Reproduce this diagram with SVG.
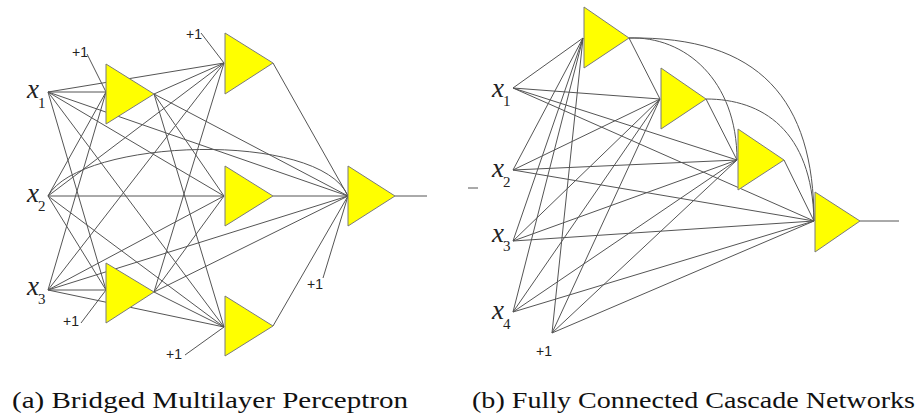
<svg xmlns="http://www.w3.org/2000/svg" width="923" height="417" viewBox="0 0 923 417">
<style>
.n{fill:#FFFF00;stroke:#7a7a7a;stroke-width:1}
.c line,.c path{stroke:#555;stroke-width:1;fill:none}
</style>
<rect width="923" height="417" fill="#fff"/>
<g class="c" id="connectors-a">
<line x1="48" y1="92" x2="106" y2="92"/>
<line x1="48" y1="92" x2="106" y2="290"/>
<line x1="48" y1="92" x2="224" y2="63"/>
<line x1="48" y1="92" x2="224" y2="196"/>
<line x1="48" y1="92" x2="224" y2="327"/>
<line x1="48" y1="92" x2="348" y2="196"/>
<line x1="48" y1="196" x2="106" y2="92"/>
<line x1="48" y1="196" x2="106" y2="290"/>
<line x1="48" y1="196" x2="224" y2="63"/>
<line x1="48" y1="196" x2="224" y2="196"/>
<line x1="48" y1="196" x2="224" y2="327"/>
<path d="M48,196 C80,138 320,130 348,196"/>
<line x1="48" y1="290" x2="106" y2="92"/>
<line x1="48" y1="290" x2="106" y2="290"/>
<line x1="48" y1="290" x2="224" y2="63"/>
<line x1="48" y1="290" x2="224" y2="196"/>
<line x1="48" y1="290" x2="224" y2="327"/>
<line x1="48" y1="290" x2="348" y2="196"/>
<line x1="154" y1="94" x2="224" y2="63"/>
<line x1="154" y1="94" x2="224" y2="196"/>
<line x1="154" y1="94" x2="224" y2="327"/>
<line x1="154" y1="94" x2="348" y2="196"/>
<line x1="154" y1="292" x2="224" y2="63"/>
<line x1="154" y1="292" x2="224" y2="196"/>
<line x1="154" y1="292" x2="224" y2="327"/>
<line x1="154" y1="292" x2="348" y2="196"/>
<line x1="273" y1="63" x2="348" y2="196"/>
<line x1="273" y1="196" x2="348" y2="196"/>
<line x1="273" y1="326" x2="348" y2="196"/>
<line x1="395" y1="196" x2="427" y2="196"/>
<line x1="87" y1="54" x2="106" y2="92"/>
<line x1="201" y1="33" x2="224" y2="63"/>
<line x1="81" y1="323" x2="106" y2="290"/>
<line x1="185" y1="355" x2="224" y2="327"/>
<line x1="323" y1="278" x2="348" y2="196"/>
</g>
<g class="c" id="connectors-b">
<line x1="513" y1="88" x2="583" y2="38"/>
<line x1="513" y1="88" x2="660" y2="99"/>
<line x1="513" y1="88" x2="737" y2="160"/>
<line x1="513" y1="88" x2="814" y2="221"/>
<line x1="513" y1="170" x2="583" y2="38"/>
<line x1="513" y1="170" x2="660" y2="99"/>
<line x1="513" y1="170" x2="737" y2="160"/>
<line x1="513" y1="170" x2="814" y2="221"/>
<line x1="513" y1="241" x2="583" y2="38"/>
<line x1="513" y1="241" x2="660" y2="99"/>
<line x1="513" y1="241" x2="737" y2="160"/>
<line x1="513" y1="241" x2="814" y2="221"/>
<line x1="513" y1="312" x2="583" y2="38"/>
<line x1="513" y1="312" x2="660" y2="99"/>
<line x1="513" y1="312" x2="737" y2="160"/>
<line x1="513" y1="312" x2="814" y2="221"/>
<line x1="552" y1="333" x2="583" y2="38"/>
<line x1="552" y1="333" x2="660" y2="99"/>
<line x1="552" y1="333" x2="737" y2="160"/>
<line x1="552" y1="333" x2="814" y2="221"/>
<line x1="629" y1="38" x2="660" y2="99"/>
<line x1="706" y1="99" x2="737" y2="160"/>
<line x1="784" y1="160" x2="814" y2="221"/>
<path d="M629,38 C685,36 737,80 737,160"/>
<path d="M629,38 C760,36 814,100 814,221"/>
<path d="M706,99 C762,99 812,130 814,221"/>
<line x1="860" y1="221" x2="899" y2="221"/>
<line x1="468" y1="188" x2="478" y2="188"/>
</g>
<g id="a-h1a"><polygon class="n" points="106,64 106,124 154,94"/></g>
<g id="a-h1b"><polygon class="n" points="106,263 106,323 154,292"/></g>
<g id="a-h2a"><polygon class="n" points="225,33 225,94 273,63"/></g>
<g id="a-h2b"><polygon class="n" points="225,166 225,226 273,196"/></g>
<g id="a-h2c"><polygon class="n" points="225,296 225,356 273,326"/></g>
<g id="a-out"><polygon class="n" points="348,166 348,226 395,196"/></g>
<g id="b-n1"><polygon class="n" points="584,7 584,68 629,38"/></g>
<g id="b-n2"><polygon class="n" points="661,68 661,129 706,99"/></g>
<g id="b-n3"><polygon class="n" points="738,129 738,190 784,160"/></g>
<g id="b-n4"><polygon class="n" points="815,192 815,252 860,221"/></g>
<g id="var-labels" font-family="Liberation Serif, Times New Roman, serif" fill="#222">
<g id="a-x1"><text font-style="italic" font-size="27" x="27" y="98">x</text><text font-size="15" x="38" y="108">1</text></g>
<g id="a-x2"><text font-style="italic" font-size="27" x="27" y="202">x</text><text font-size="15" x="38" y="211">2</text></g>
<g id="a-x3"><text font-style="italic" font-size="27" x="27" y="295">x</text><text font-size="15" x="38" y="304">3</text></g>
<g id="b-x1"><text font-style="italic" font-size="27" x="492" y="97">x</text><text font-size="15" x="503" y="106">1</text></g>
<g id="b-x2"><text font-style="italic" font-size="27" x="492" y="177">x</text><text font-size="15" x="503" y="187">2</text></g>
<g id="b-x3"><text font-style="italic" font-size="27" x="492" y="242">x</text><text font-size="15" x="503" y="251">3</text></g>
<g id="b-x4"><text font-style="italic" font-size="27" x="492" y="319">x</text><text font-size="15" x="503" y="329">4</text></g>
</g>
<g id="bias-labels" font-family="Liberation Sans, Arial, sans-serif" font-size="14" fill="#222">
<text x="72" y="57">+1</text>
<text x="186" y="39">+1</text>
<text x="63" y="326">+1</text>
<text x="166" y="359">+1</text>
<text x="307" y="289">+1</text>
<text x="536" y="356">+1</text>
</g>
<g id="captions" font-family="Liberation Serif, Times New Roman, serif" font-size="24" fill="#111">
<text x="12" y="408" textLength="396" lengthAdjust="spacingAndGlyphs">(a) Bridged Multilayer Perceptron</text>
<text x="472" y="408" textLength="443" lengthAdjust="spacingAndGlyphs">(b) Fully Connected Cascade Networks</text>
</g>
</svg>
